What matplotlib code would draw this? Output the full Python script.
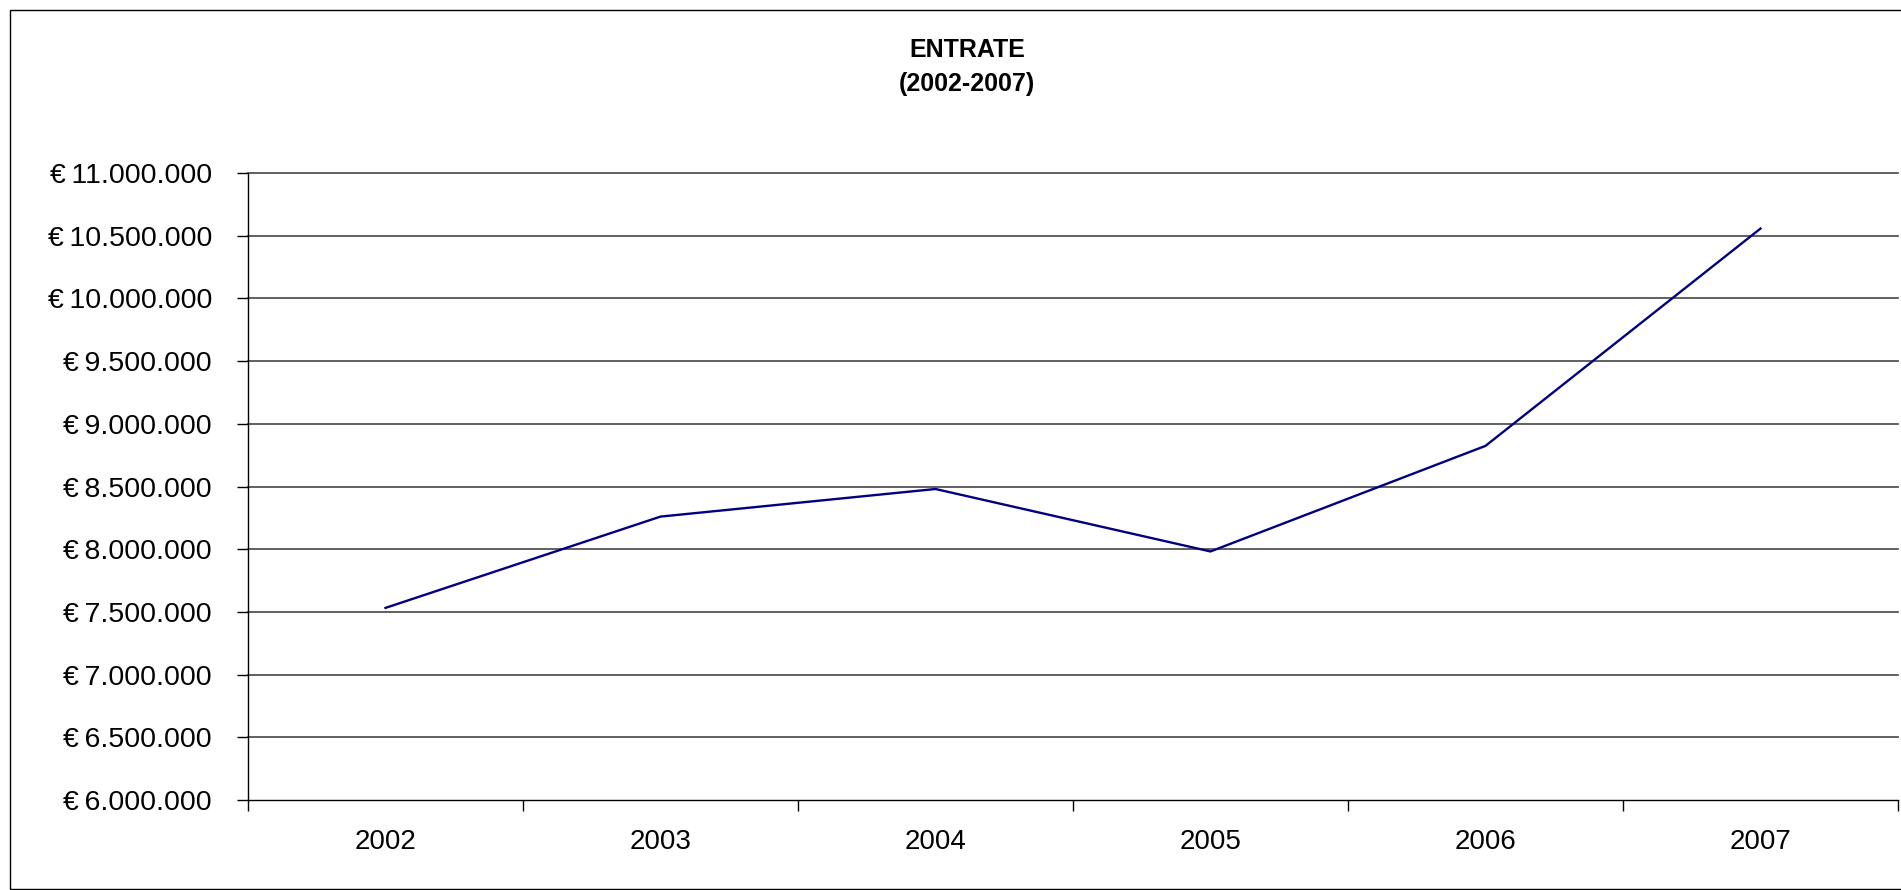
import matplotlib.pyplot as plt
from matplotlib.patches import Rectangle
import numpy as np

plt.rcParams['font.family'] = ['Liberation Sans', 'DejaVu Sans']

# data
years = ['2002', '2003', '2004', '2005', '2006', '2007']
entrate = [7532000, 8260000, 8480000, 7982000, 8824000, 10557000]
y_ticks = np.arange(6000000, 11000001, 500000)


def euro(v):
    return '€\u2009' + f'{int(v):,}'.replace(',', '.')


W, H = 1901, 890
fig = plt.figure(figsize=(W / 100, H / 100), dpi=100)

# chart area border
fig.patches.append(Rectangle((10 / W, 1.5 / H), 2.0, 1 - 11.5 / H,
                             transform=fig.transFigure, fill=False,
                             edgecolor='black', linewidth=1.0))

ax = fig.add_axes([248 / W, 1 - 800 / H, (1898 - 248) / W, (800 - 173) / H])

x = np.arange(len(years)) + 0.5
ax.plot(x, entrate, color='#000080', linewidth=1.7, zorder=3)

ax.set_xlim(0, len(years))
ax.set_ylim(6000000, 11000000)
ax.set_yticks(y_ticks)
ax.set_yticklabels([euro(v) for v in y_ticks], fontsize=20.5)
ax.set_xticks(np.arange(len(years) + 1))
ax.set_xticklabels([])
ax.set_xticks(x, minor=True)
ax.set_xticklabels(years, minor=True, fontsize=20)
ax.tick_params(axis='x', which='minor', length=0, pad=21)
ax.tick_params(axis='x', which='major', length=8, width=1, direction='out')
ax.tick_params(axis='y', length=8, width=1, direction='out', pad=18)

for v in y_ticks[1:]:
    ax.axhline(v, color='#454545', linewidth=1.2, zorder=1, clip_on=False)

for s in ['top', 'right']:
    ax.spines[s].set_visible(False)
ax.spines['left'].set_linewidth(1.0)
ax.spines['bottom'].set_linewidth(1.0)

fig.text(967 / W, 1 - 50 / H, 'ENTRATE', ha='center', va='center',
         fontsize=18, fontweight='bold')
fig.text(967 / W, 1 - 84 / H, '(2002-2007)', ha='center', va='center',
         fontsize=18, fontweight='bold')

fig.savefig('out.png', dpi=100)
